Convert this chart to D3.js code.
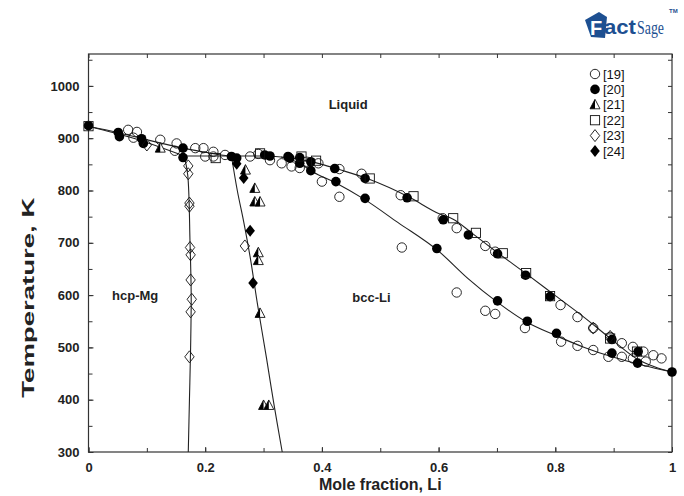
<!DOCTYPE html>
<html><head><meta charset="utf-8">
<script src="https://cdn.jsdelivr.net/npm/d3@7/dist/d3.min.js"></script>
<style>body{margin:0;background:#fff}svg{display:block}</style>
</head><body><svg id="c" width="684" height="496"></svg>
<script>
// ---- data ----
const xTicks = [0, 0.2, 0.4, 0.6, 0.8, 1];
const xTickLabels = ["0", "0.2", "0.4", "0.6", "0.8", "1"];
const yTicks = [300, 400, 500, 600, 700, 800, 900, 1000];
const legendLabels = ["[19]", "[20]", "[21]", "[22]", "[23]", "[24]"];

const ref19 = [[0.068,916],[0.083,912],[0.077,901],[0.123,897],[0.151,890],[0.148,876],[0.183,881],[0.197,881],[0.214,874],[0.200,865],[0.214,865],[0.234,868],[0.277,865],[0.291,870],[0.311,858],[0.331,852],[0.348,846],[0.362,843],[0.374,855],[0.394,852],[0.400,817],
  [0.430,841],[0.468,832],[0.535,791],[0.607,747],[0.631,728],[0.680,694],[0.697,683],[0.809,581],[0.838,558],[0.865,537],[0.894,520],[0.914,508],[0.933,501],[0.951,492],[0.968,485],[0.982,479],
  [0.430,788],[0.537,691],[0.631,605],[0.680,570],[0.697,564],[0.748,537],[0.810,511],[0.838,503],[0.865,495],[0.891,482],[0.914,482],[0.933,479],[0.955,473]];
const ref20 = [[0,924],[0.051,911],[0.053,903],[0.091,899],[0.094,890],[0.162,881],[0.162,863],[0.245,865],[0.254,862],[0.302,868],[0.311,866],[0.342,865],[0.345,862],[0.362,863],[0.362,852],[0.381,855],[0.381,838],[0.422,842],[0.424,817],[0.474,823],[0.474,785],[0.546,786],[0.597,689],[0.608,744],[0.651,715],[0.701,679],[0.701,589],[0.749,638],[0.752,550],[0.791,597],[0.802,527],[0.897,515],[0.897,489],[0.942,492],[0.941,470],[1.0,453]];
const ref21 = [[0.123,881],[0.269,839],[0.285,804],[0.285,778],[0.294,778],[0.291,681],[0.291,666],[0.294,565],[0.300,389],[0.309,389]];
const ref22 = [[0,923],[0.218,862],[0.294,871],[0.365,865],[0.390,857],[0.482,823],[0.557,789],[0.625,747],[0.664,719],[0.710,680],[0.750,642],[0.791,598],[0.894,517],[0.940,492]];
const ref23 = [[0.100,887],[0.171,847],[0.171,832],[0.173,776],[0.173,770],[0.174,691],[0.175,677],[0.175,629],[0.177,592],[0.175,568],[0.173,482],[0.268,694],[0.865,537],[0.894,521]];
const ref24 = [[0.254,851],[0.266,824],[0.277,723],[0.282,623]];

// phase boundaries (calculated)
const liquidus = [[0,923],[0.05,911],[0.1,897],[0.162,881],[0.2,873],[0.245,866],[0.3,866],[0.33,864],[0.36,860],[0.4,850],[0.43,840],[0.48,822],[0.55,787],[0.6,756],[0.625,745],[0.66,716],[0.7,682],[0.75,641],[0.8,599],[0.85,557],[0.9,512],[0.94,478],[0.97,463],[1,453]];
const hcpSolidus = [[0,923],[0.08,899],[0.164,866]];
const eutectic = [[0.164,866],[0.245,866]];
const hcpSolvus = [[0.164,866],[0.170,830],[0.174,700],[0.176,600],[0.175,500],[0.173,400],[0.171,300]];
const bccSolvus = [[0.245,866],[0.255,800],[0.266,740],[0.277,673],[0.29,580],[0.305,480],[0.318,390],[0.332,300]];
const bccSolidus = [[0.33,864],[0.36,853],[0.384,836],[0.425,814],[0.473,783],[0.53,739],[0.6,684],[0.65,632],[0.7,587],[0.75,549],[0.8,523],[0.85,500],[0.9,481],[0.95,466],[1,453]];

// ---- drawing ----
const svg = d3.select("#c");
const x = d3.scaleLinear().domain([0,1]).range([88.5,672]);
const y = d3.scaleLinear().domain([300,1061]).range([452,54]);
const FONT = "'Liberation Sans', Arial, sans-serif";
const axisColor = "#333";

svg.append("rect").attr("x",x(0)).attr("y",y(1061)).attr("width",x(1)-x(0)).attr("height",y(300)-y(1061))
  .attr("fill","none").attr("stroke",axisColor).attr("stroke-width",1.2);

function styleAxis(g){ g.select(".domain").remove(); g.selectAll("line").attr("stroke",axisColor); }

const xMinor = d3.range(0,1.0001,0.1);
const yMinor = d3.range(300,1061,50);
svg.append("g").attr("transform",`translate(0,${y(300)})`)
  .call(d3.axisBottom(x).tickValues(xMinor).tickSize(-4).tickFormat(""))
  .call(styleAxis);
svg.append("g").attr("transform",`translate(0,${y(300)})`)
  .call(d3.axisBottom(x).tickValues(xTicks).tickSize(-5).tickPadding(11).tickFormat((d,i)=>xTickLabels[i]))
  .call(styleAxis)
  .selectAll("text").attr("font-family",FONT).attr("font-weight","bold").attr("font-size",13).attr("fill","#222");
svg.append("g").attr("transform",`translate(0,${y(1061)})`)
  .call(d3.axisTop(x).tickValues(xMinor).tickSize(-4).tickFormat("")).call(styleAxis);
svg.append("g").attr("transform",`translate(${x(0)},0)`)
  .call(d3.axisLeft(y).tickValues(yMinor).tickSize(-4).tickFormat("")).call(styleAxis);
svg.append("g").attr("transform",`translate(${x(0)},0)`)
  .call(d3.axisLeft(y).tickValues(yTicks).tickSize(-5).tickPadding(9).tickFormat(d3.format("d")))
  .call(styleAxis)
  .selectAll("text").attr("font-family",FONT).attr("font-weight","bold").attr("font-size",13).attr("fill","#222");
svg.append("g").attr("transform",`translate(${x(1)},0)`)
  .call(d3.axisRight(y).tickValues(yMinor).tickSize(-4).tickFormat("")).call(styleAxis);

// axis titles
svg.append("text").attr("x",(x(0)+x(1))/2).attr("y",490).attr("text-anchor","middle")
  .attr("font-family",FONT).attr("font-weight","bold").attr("font-size",16).attr("fill","#222").text("Mole fraction, Li");
svg.append("text").attr("transform",`translate(34,${y(595)}) rotate(-90)`).attr("text-anchor","middle")
  .attr("font-family",FONT).attr("font-weight","bold").attr("font-size",16).attr("fill","#222")
  .attr("textLength",200).attr("lengthAdjust","spacingAndGlyphs").text("Temperature, K");

// curves
const line = d3.line().x(d=>x(d[0])).y(d=>y(d[1])).curve(d3.curveMonotoneX);
const lineV = d3.line().x(d=>x(d[0])).y(d=>y(d[1])).curve(d3.curveCatmullRom);
const curves = svg.append("g").attr("fill","none").attr("stroke","#222").attr("stroke-width",1.1);
curves.append("path").attr("d",line(liquidus));
curves.append("path").attr("d",line(hcpSolidus));
curves.append("path").attr("d",line(eutectic));
curves.append("path").attr("d",lineV(hcpSolvus));
curves.append("path").attr("d",lineV(bccSolvus));
curves.append("path").attr("d",line(bccSolidus));

// markers
function drawMarker(g, type, cx, cy){
  const s = g.append("g").attr("transform",`translate(${cx},${cy})`);
  const sw = 0.9;
  if(type===0) s.append("circle").attr("r",4.7).attr("fill","none").attr("stroke","#111").attr("stroke-width",sw);
  else if(type===1) s.append("circle").attr("r",4.8).attr("fill","#000");
  else if(type===2){
    s.append("path").attr("d","M0,-5.5L-5,4L5,4Z").attr("fill","#fff").attr("stroke","#111").attr("stroke-width",sw);
    s.append("path").attr("d","M0,-5.5L-5,4L0,4Z").attr("fill","#000");
  }
  else if(type===3) s.append("rect").attr("x",-4.6).attr("y",-4.6).attr("width",9.2).attr("height",9.2).attr("fill","none").attr("stroke","#111").attr("stroke-width",sw);
  else if(type===4) s.append("path").attr("d","M0,-6L4.7,0L0,6L-4.7,0Z").attr("fill","none").attr("stroke","#111").attr("stroke-width",sw);
  else if(type===5) s.append("path").attr("d","M0,-6L4.8,0L0,6L-4.8,0Z").attr("fill","#000");
}
const series = [ref19, ref20, ref21, ref22, ref23, ref24];
const mg = svg.append("g");
series.forEach((arr,i)=>{ arr.forEach(d=>drawMarker(mg,i,x(d[0]),y(d[1]))); });

// legend
const lg = svg.append("g");
legendLabels.forEach((lab,i)=>{
  const ly = 74 + i*15.4;
  drawMarker(lg,i,595,ly);
  lg.append("text").attr("x",603).attr("y",ly+4.5).attr("font-family",FONT).attr("font-size",13).attr("fill","#111").text(lab);
});

// region labels
const rl = [["Liquid",0.445,955],["hcp-Mg",0.08,590],["bcc-Li",0.485,586]];
rl.forEach(d=>svg.append("text").attr("x",x(d[1])).attr("y",y(d[2])).attr("text-anchor","middle")
  .attr("font-family",FONT).attr("font-weight","bold").attr("font-size",13).attr("fill","#222").text(d[0]));

// FactSage logo
const blue = "#1d4f91";
const logo = svg.append("g");
logo.append("path").attr("d","M585,20 L599,12 L607,17 L605,38 L591,37 Z").attr("fill",blue);
logo.append("text").attr("x",590).attr("y",35).attr("font-family",FONT).attr("font-weight","bold").attr("font-size",20).attr("fill","#fff").text("F");
logo.append("text").attr("x",604).attr("y",34).attr("font-family",FONT).attr("font-weight","bold").attr("font-size",21)
  .attr("fill",blue).attr("textLength",32).attr("lengthAdjust","spacingAndGlyphs").text("act");
logo.append("text").attr("x",637).attr("y",34).attr("font-family","'Liberation Serif', serif").attr("font-size",18)
  .attr("fill",blue).attr("textLength",27).attr("lengthAdjust","spacingAndGlyphs").text("Sage");
logo.append("text").attr("x",669).attr("y",13).attr("font-family",FONT).attr("font-weight","bold").attr("font-size",6).attr("fill",blue).text("TM");
</script></body></html>
